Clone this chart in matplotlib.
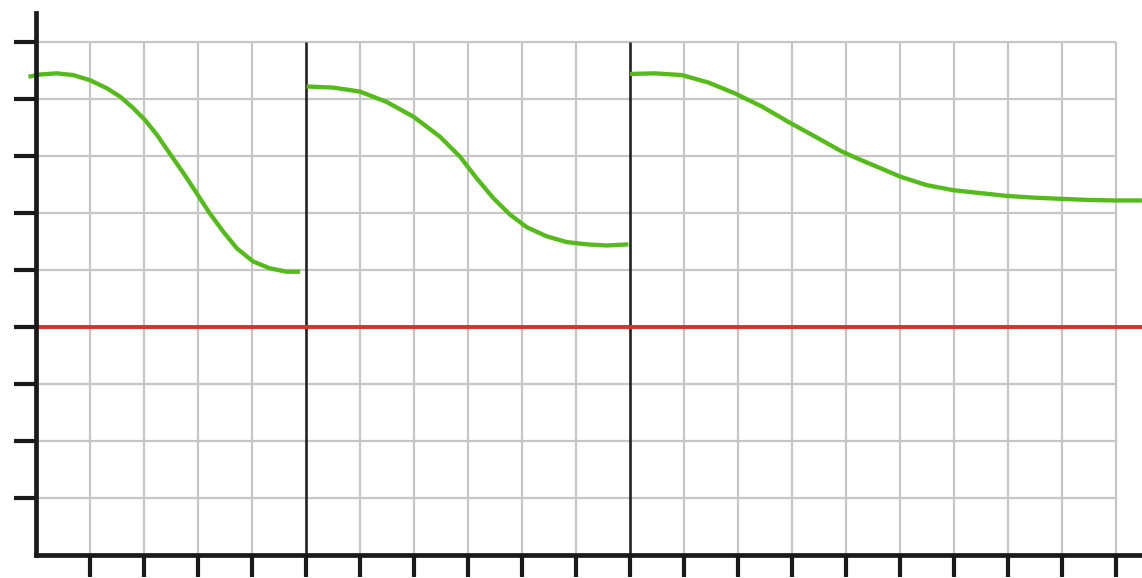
import matplotlib
matplotlib.use("Agg")
import matplotlib.pyplot as plt

# ---- data (grid units) ----
seg1_x = [-0.14, 0.07, 0.38, 0.69, 1.00, 1.31, 1.56, 1.80, 2.02, 2.24, 2.48, 2.73,
          2.98, 3.22, 3.47, 3.72, 4.02, 4.33, 4.64, 4.89]
seg1_y = [8.39, 8.43, 8.45, 8.42, 8.33, 8.19, 8.04, 7.84, 7.63, 7.37, 7.04, 6.70,
          6.34, 5.99, 5.67, 5.38, 5.15, 5.03, 4.97, 4.97]

seg2_x = [5.01, 5.51, 6.00, 6.49, 6.99, 7.48, 7.85, 8.16, 8.47, 8.78, 9.09, 9.46,
          9.83, 10.20, 10.57, 10.97]
seg2_y = [8.22, 8.20, 8.13, 7.95, 7.69, 7.34, 6.99, 6.61, 6.26, 5.97, 5.75, 5.59,
          5.49, 5.45, 5.43, 5.45]

seg3_x = [11.0, 11.46, 11.96, 12.45, 12.94, 13.44, 13.93, 14.43, 14.92, 15.30, 15.68,
          16.0, 16.49, 16.99, 17.48, 17.98, 18.47, 18.96, 19.46, 19.95, 20.48]
seg3_y = [8.44, 8.45, 8.42, 8.29, 8.10, 7.87, 7.60, 7.34, 7.08, 6.92, 6.77,
          6.64, 6.49, 6.40, 6.35, 6.30, 6.27, 6.25, 6.23, 6.22, 6.22]

baseline_y = 4.0
separators_x = [5, 11]
x_ticks = list(range(1, 21))
y_ticks = list(range(1, 10))
grid_x_max = 20
grid_y_max = 9

W, H = 1142, 578
fig = plt.figure(figsize=(W / 100, H / 100), dpi=100)
left_px, bottom_px, top_px = 36, 555, 13
ax = fig.add_axes([left_px / W, (H - bottom_px) / H, (W - left_px) / W, (bottom_px - top_px) / H])
ax.set_xlim(0, (W - left_px) / 54)
ax.set_ylim(0, (bottom_px - top_px) / 57)

grid_col = "#c6c6c6"
for gx in x_ticks:
    if gx in separators_x:
        continue
    ax.plot([gx, gx], [0, grid_y_max], color=grid_col, lw=1.6, zorder=1, solid_capstyle="butt")
for gy in y_ticks:
    ax.plot([0, grid_x_max], [gy, gy], color=grid_col, lw=1.6, zorder=1, solid_capstyle="butt")

for sx in separators_x:
    ax.plot([sx, sx], [0, grid_y_max], color="#222222", lw=1.9, zorder=2, solid_capstyle="butt")

ax.axhline(baseline_y, color="#d9302a", lw=2.8, zorder=3)

green = "#55bb1a"
for xs, ys in [(seg1_x, seg1_y), (seg2_x, seg2_y), (seg3_x, seg3_y)]:
    ax.plot(xs, ys, color=green, lw=3.1, zorder=4, clip_on=False,
            solid_capstyle="butt", solid_joinstyle="round")

for s in ["top", "right"]:
    ax.spines[s].set_visible(False)
for s in ["left", "bottom"]:
    ax.spines[s].set_linewidth(3.4)
    ax.spines[s].set_color("#1a1a1a")
    ax.spines[s].set_zorder(5)

ax.set_xticks(x_ticks)
ax.set_yticks(y_ticks)
ax.set_xticklabels([])
ax.set_yticklabels([])
ax.tick_params(axis="both", direction="out", length=16, width=3.0, color="#1a1a1a")

fig.savefig("out.png", dpi=100, facecolor="white")
